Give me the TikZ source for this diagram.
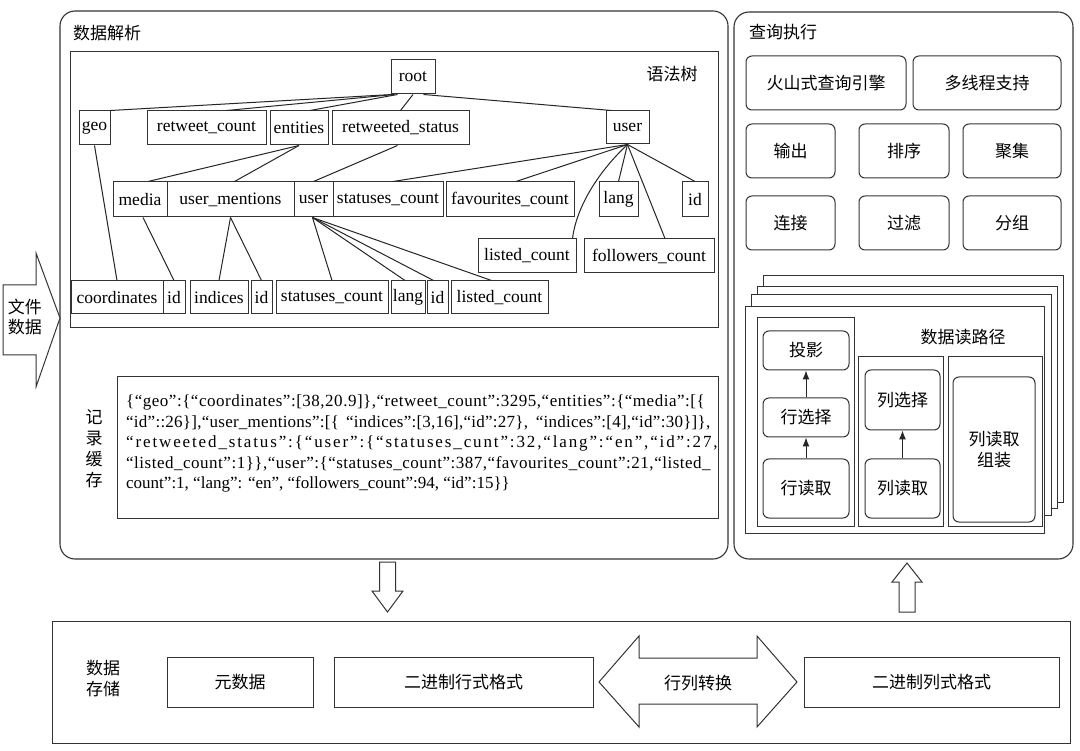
\documentclass[tikz,border=0pt]{standalone}
\usepackage{fontspec}
\setmainfont{Liberation Serif}
\newfontfamily\cjk{Noto Sans CJK SC}
\usetikzlibrary{calc,arrows.meta}
\newcommand\bx[7][tbox]{\node[#1, minimum width={(#5)-(#3)}, minimum height={(#6)-(#4)}] (#2) at ({((#3)+(#5))/2},{((#4)+(#6))/2}) {#7};}
\begin{document}
\begin{tikzpicture}[x=1pt,y=-1pt,
  tbox/.style={draw=black!80, line width=1pt, inner sep=0pt, font=\fontsize{17.5}{20}\selectfont},
  cbox/.style={tbox, font=\cjk\fontsize{17}{20}\selectfont},
  rbox/.style={cbox, rounded corners=6pt},
  plain/.style={draw=black!80, line width=1pt, inner sep=0pt},
  layer/.style={draw=black!80, line width=1pt, fill=white, inner sep=0pt},
  panel/.style={draw=black!80, line width=1.1pt, rounded corners=15pt},
  edge/.style={draw=black!85, line width=1pt},
  upar/.style={edge, -{Latex[length=9pt,width=7pt]}},
  lbl/.style={font=\cjk\fontsize{17}{21}\selectfont, inner sep=0pt, align=center},
  rec/.style={font=\fontsize{17}{20}\selectfont, inner sep=0pt, anchor=base west},
  bigarrow/.style={draw=black!80, line width=1pt, fill=white}]
\fill[white] (0,0) rectangle (1080,751);
\useasboundingbox (0,0) rectangle (1080,751);

% ---------- panels ----------
\draw[panel] (60,11) rectangle (728,559);
\draw[panel] (734,12) rectangle (1073,559);
\node[lbl] (t1) at (107,33) {数据解析};
\node[lbl] (t2) at (783,32) {查询执行};

% ---------- syntax tree ----------
\bx[plain]{treebox}{70}{52}{718}{328}{}
\node[lbl] (t3) at (672,74) {语法树};

\bx{root}{391}{60}{435}{94}{root}
\bx{geo}{79}{111}{110}{145}{geo}
\bx{rc}{147}{111}{266}{145}{retweet\_count}
\bx{ent}{270}{111}{328}{145}{entities}
\bx{rs}{332}{111}{469}{145}{retweeted\_status}
\bx{userA}{606}{111}{649}{144}{user}

\bx{media}{113}{182}{167}{217}{media}
\bx{um}{167}{182}{294}{217}{user\_mentions}
\bx{userB}{294}{182}{333}{217}{user}
\bx{scA}{333}{182}{443}{217}{statuses\_count}
\bx{fav}{446}{182}{574}{217}{favourites\_count}
\bx{langA}{599}{182}{638}{217}{lang}
\bx{idA}{682}{182}{708}{217}{id}

\bx{lcA}{478}{239}{576}{273}{listed\_count}
\bx{fc}{584}{239}{714}{273}{followers\_count}

\bx{coord}{71}{281}{163}{314}{coordinates}
\bx{idB}{163}{281}{185}{314}{id}
\bx{ind}{190}{281}{248}{314}{indices}
\bx{idC}{251}{281}{272}{314}{id}
\bx{scB}{276}{281}{388}{314}{statuses\_count}
\bx{langB}{391}{281}{425}{314}{lang}
\bx{idD}{427}{281}{448}{314}{id}
\bx{lcB}{451}{281}{548}{314}{listed\_count}

% tree edges
\draw[edge] ([xshift=2pt]root.south west) -- (geo.north east);
\draw[edge] ([xshift=4pt]root.south west) -- ([xshift=20pt]rc.north);
\draw[edge] ([xshift=7pt]root.south west) -- ([xshift=11pt]ent.north);
\draw[edge] (root.south) -- (rs.north);
\draw[edge] ([xshift=-12pt]root.south east) -- ([xshift=6pt]userA.north west);
\draw[edge] (ent.south) -- ([xshift=8pt]media.north);
\draw[edge] (ent.south) -- ([xshift=4pt]um.north);
\draw[edge] ([xshift=-3pt]rs.south) -- (userB.north);
\draw[edge] (userA.south) -- ([xshift=5pt]scA.north);
\draw[edge] (userA.south) -- ([xshift=6pt]fav.north);
\draw[edge] (userA.south) -- (langA.north);
\draw[edge] (userA.south) -- (idA.north);
\draw[edge] (userA.south) .. controls (595,175) and (576,210) .. ([xshift=-4pt]lcA.north east);
\draw[edge] (userA.south) -- ([xshift=16pt]fc.north);
\draw[edge] (geo.south) -- (coord.north);
\draw[edge] ([xshift=3pt]media.south) -- (idB.north);
\draw[edge] (um.south) -- (ind.north);
\draw[edge] (um.south) -- (idC.north);
\draw[edge] ([xshift=-1pt]userB.south) -- (scB.north);
\draw[edge] ([xshift=-1pt]userB.south) -- ([xshift=-3pt]langB.north);
\draw[edge] ([xshift=-1pt]userB.south) -- ([xshift=-4pt]idD.north);
\draw[edge] ([xshift=-1pt]userB.south) -- ([xshift=-8pt]lcB.north);

% ---------- record buffer ----------
\node[lbl, font=\cjk\fontsize{17}{21}\selectfont] (jl) at (94,449) {记\\录\\缓\\存};
\bx[plain]{recbox}{117}{377}{718}{518}{}
\node[rec] (r1) at (126,407) {\makebox[584pt][s]{\addfontfeature{LetterSpace=3}\{“geo”:\{“coordinates”:[38,20.9]\},“retweet\_count”:3295,“entities”:\{“media”:[\{}};
\node[rec] (r2) at (126,427.5) {\makebox[584pt][s]{\addfontfeature{LetterSpace=1.5}“id”::26\}],“user\_mentions”:[\{ “indices”:[3,16],“id”:27\}, “indices”:[4],“id”:30\}]\},}};
\node[rec] (r3) at (126,448) {\makebox[584pt][s]{\addfontfeature{LetterSpace=11}“retweeted\_status”:\{“user”:\{“statuses\_cunt”:32,“lang”:“en”,“id”:27,}};
\node[rec] (r4) at (126,468.5) {\makebox[584pt][s]{\addfontfeature{LetterSpace=3}“listed\_count”:1\}\},“user”:\{“statuses\_count”:387,“favourites\_count”:21,“listed\_}};
\node[rec] (r5) at (126,489) {count”:1, “lang”: “en”, “followers\_count”:94, “id”:15\}\}};

% ---------- file data arrow ----------
\draw[bigarrow] (3,285) -- (36,285) -- (36,253) -- (60,318) -- (36,387) -- (36,355) -- (3,355) -- cycle;
\node[lbl, font=\cjk\fontsize{17}{20}\selectfont] (fd) at (25,317) {文件\\数据};

% ---------- query execution ----------
\bx[rbox]{volc}{746}{56}{906}{110}{火山式查询引擎}
\bx[rbox]{mt}{913}{56}{1061}{110}{多线程支持}
\bx[rbox]{out}{746}{124}{835}{178}{输出}
\bx[rbox]{sort}{859}{124}{949}{178}{排序}
\bx[rbox]{agg}{963}{124}{1061}{178}{聚集}
\bx[rbox]{join}{746}{196}{835}{250}{连接}
\bx[rbox]{filt}{859}{196}{949}{250}{过滤}
\bx[rbox]{grp}{963}{196}{1061}{250}{分组}

\bx[layer]{l4}{763}{276}{1063}{502}{}
\bx[layer]{l3}{757}{287}{1057}{508}{}
\bx[layer]{l2}{751}{295}{1051}{515}{}
\bx[layer]{l1}{745}{307}{1044}{533}{}
\node[lbl] (t4) at (963,337) {数据读路径};

\bx[plain]{subL}{757}{318}{854}{526}{}
\bx[plain]{subM}{858}{357}{943}{526}{}
\bx[plain]{subR}{948}{357}{1042}{526}{}
\bx[rbox]{proj}{763}{331}{849}{370}{投影}
\bx[rbox]{rsel}{763}{398}{849}{437}{行选择}
\bx[rbox]{rread}{763}{459}{849}{518}{行读取}
\bx[rbox]{csel}{865}{370}{940}{430}{列选择}
\bx[rbox]{cread}{865}{459}{940}{518}{列读取}
\node[rbox, align=center, font=\cjk\fontsize{17}{21}\selectfont, minimum width=82pt, minimum height=145pt] (asm) at (994,449.5) {列读取\\组装};
\draw[upar] (rread.north) -- (rsel.south);
\draw[upar] (rsel.north) -- (proj.south);
\draw[upar] (cread.north) -- (csel.south);

% ---------- vertical block arrows ----------
\draw[bigarrow] (379.5,562) -- (395.5,562) -- (395.5,591) -- (403,591) -- (387.5,612) -- (372,591) -- (379.5,591) -- cycle;
\draw[bigarrow] (899,612) -- (915,612) -- (915,582) -- (922,582) -- (907,563) -- (892,582) -- (899,582) -- cycle;

% ---------- storage ----------
\bx[plain]{store}{52}{621}{1070}{743}{}
\node[lbl] (t5) at (103,679) {数据\\存储};
\bx[cbox]{meta}{167}{657}{313}{707}{元数据}
\bx[cbox]{rowf}{334}{657}{593}{707}{二进制行式格式}
\bx[cbox]{colf}{804}{657}{1059}{707}{二进制列式格式}
\draw[bigarrow] (599,682) -- (639,636) -- (639,658) -- (757,658) -- (757,636) -- (797,682) -- (757,727) -- (757,704) -- (639,704) -- (639,727) -- cycle;
\node[lbl] (conv) at (698,683) {行列转换};
\end{tikzpicture}
\end{document}
